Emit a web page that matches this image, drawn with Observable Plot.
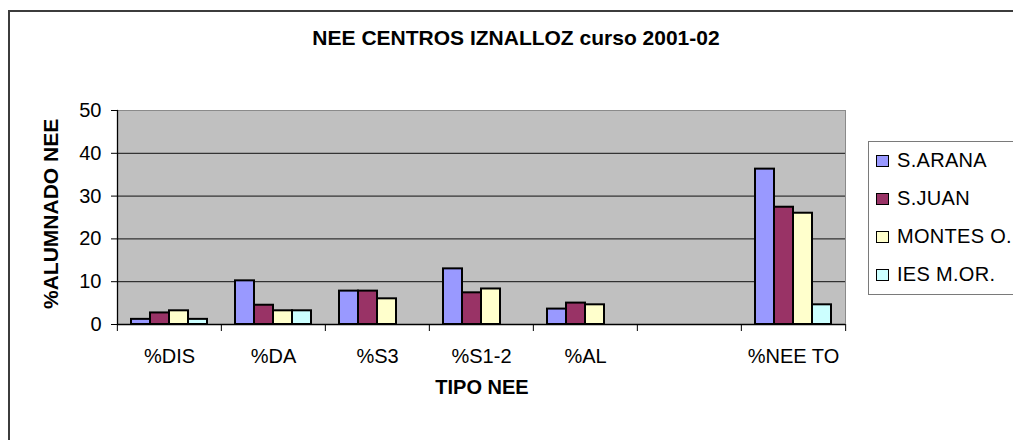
<!DOCTYPE html>
<html>
<head>
<meta charset="utf-8">
<script src="https://cdn.jsdelivr.net/npm/d3@7"></script>
<script src="https://cdn.jsdelivr.net/npm/@observablehq/plot@0.6"></script>
<style>
  html, body { margin: 0; padding: 0; background: #fff; }
  #wrap { position: relative; width: 1013px; height: 440px; overflow: hidden; font-family: "Liberation Sans", Arial, sans-serif; color: #000; }
  #wrap > * { position: absolute; }
  .abs { position: absolute; white-space: nowrap; }
</style>
</head>
<body>
<div id="wrap"></div>
<script>
// ---- data ----
const title = "NEE CENTROS IZNALLOZ curso 2001-02";
const xTitle = "TIPO NEE";
const yTitle = "%ALUMNADO NEE";
const categories = ["%DIS", "%DA", "%S3", "%S1-2", "%AL", "", "%NEE TO"];
const series = ["S.ARANA", "S.JUAN", "MONTES O.", "IES M.OR."];
const colors = ["#9999FF", "#993366", "#FFFFCC", "#CCFFFF"];
const sArana = [1.2, 10.2, 7.8, 13.0, 3.6, null, 36.3];
const sJuan  = [2.7, 4.5, 7.8, 7.4, 5.0, null, 27.4];
const montes = [3.2, 3.2, 6.0, 8.3, 4.6, null, 26.0];
const iesMor = [1.2, 3.2, null, null, null, null, 4.6];
const yTicks = [0, 10, 20, 30, 40, 50];
const gridTicks = [10, 20, 30, 40];

const seriesValues = [sArana, sJuan, montes, iesMor];
const rows = [];
series.forEach((s, i) => {
  categories.forEach((c, j) => {
    const v = seriesValues[i][j];
    if (v != null) rows.push({category: c, series: s, value: v});
  });
});
const gridRows = categories.flatMap(c => gridTicks.map(t => ({category: c, y: t})));
const baseRows = categories.map(c => ({category: c, y: 0}));

// ---- layout ----
const W = 1013, H = 440;
const mL = 116, mR = 167, mT = 110, mB = 116;
const step = (W - mL - mR) / categories.length;
const font = '"Liberation Sans", Arial, sans-serif';

const chart = Plot.plot({
  width: W,
  height: H,
  marginLeft: mL,
  marginRight: mR,
  marginTop: mT,
  marginBottom: mB,
  style: {background: "transparent", fontFamily: font, fontSize: "20px", color: "#000", overflow: "visible"},
  fx: {domain: categories, padding: 0},
  x: {domain: series, paddingInner: 0, paddingOuter: 0.7, axis: null},
  y: {domain: [0, 50]},
  color: {domain: series, range: colors},
  marks: [
    Plot.frame({facet: "super", fill: "#C0C0C0", stroke: "#8a8a8a", strokeWidth: 1}),
    Plot.ruleY(gridRows, {fx: "category", y: "y", stroke: "#111", strokeWidth: 1}),
    Plot.barY(rows, {fx: "category", x: "series", y: "value", fill: "series", stroke: "#000", strokeWidth: 2}),
    Plot.ruleY(baseRows, {fx: "category", y: "y", stroke: "#000", strokeWidth: 1.3}),
    Plot.frame({facet: "super", anchor: "left", stroke: "#000", strokeWidth: 1.3}),
    Plot.axisY({ticks: yTicks, tickSize: 6, tickPadding: 10, fontSize: 20, label: null, stroke: "#000"}),
    Plot.axisFx({anchor: "bottom", tickSize: 0, tickPadding: 24, fontSize: 20, label: null}),
    Plot.axisFx({anchor: "bottom", tickSize: 7, text: null, label: null, dx: -step / 2, stroke: "#000"}),
    Plot.axisFx({anchor: "bottom", ticks: [categories[categories.length - 1]], tickSize: 7, text: null, label: null, dx: step / 2, stroke: "#000"})
  ]
});
chart.style.position = "absolute";
chart.style.left = "0px";
chart.style.top = "0px";

const wrap = document.getElementById("wrap");

// outer chart border
const border = document.createElement("div");
border.style.cssText = "left:8px;top:10px;width:1200px;height:700px;border-top:2px solid #3c3c3c;border-left:2px solid #3c3c3c;";
wrap.appendChild(border);
wrap.appendChild(chart);

function addText(txt, css) {
  const d = document.createElement("div");
  d.className = "abs";
  d.textContent = txt;
  d.style.cssText += css;
  wrap.appendChild(d);
  return d;
}
// title
addText(title, "left:516px;top:27px;transform:translateX(-50%);font:bold 21px/21px " + font + ";");
// x title
addText(xTitle, "left:482px;top:377px;transform:translateX(-50%);font:bold 20px/20px " + font + ";");
// y title, rotated, reading bottom to top
const yl = addText(yTitle, "left:39.5px;top:309px;transform-origin:0 0;transform:rotate(-90deg);font:bold 21px/21px " + font + ";");

// legend
const leg = document.createElement("div");
leg.style.cssText = "left:868px;top:141px;width:300px;height:152px;border:1px solid #7a7a7a;background:#fff;";
wrap.appendChild(leg);
series.forEach((s, i) => {
  const top = 150 + i * 38;
  const sw = document.createElement("div");
  sw.style.cssText = `position:absolute;left:876px;top:${top + 5}px;width:11px;height:10px;border:1.5px solid #000;background:${colors[i]};`;
  wrap.appendChild(sw);
  addText(s, `left:897px;top:${top}px;font:20px/20px ${font};letter-spacing:0.3px;`);
});
</script>
</body>
</html>
